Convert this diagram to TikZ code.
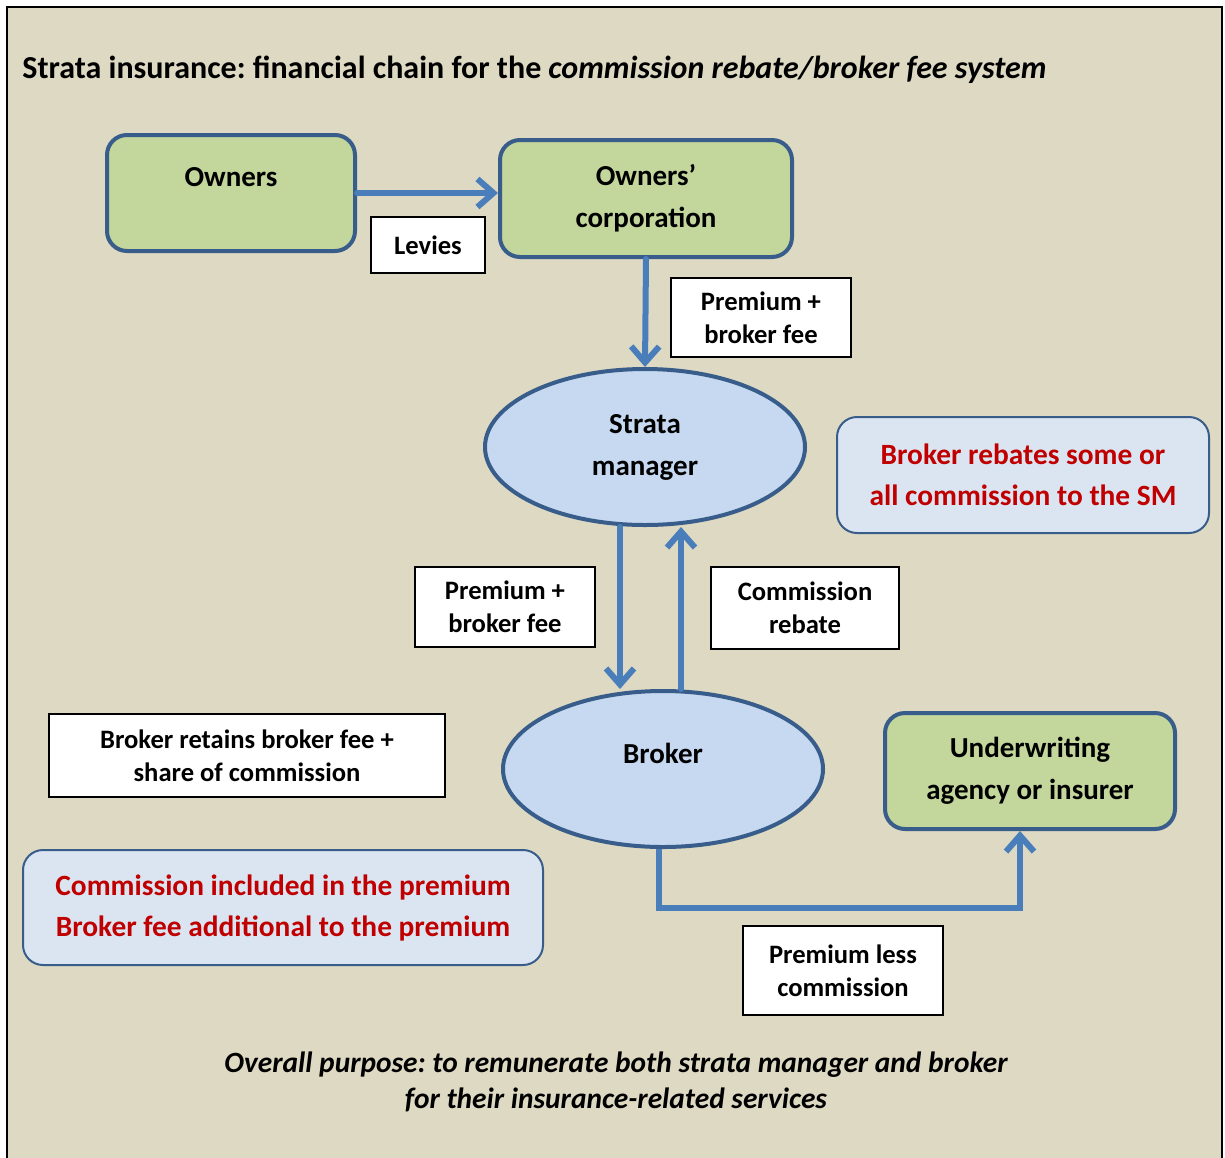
\documentclass[tikz,border=0pt]{standalone}
\usepackage{fontspec}
\setmainfont{Carlito}
\frenchspacing
\usetikzlibrary{arrows.meta,calc,shapes.geometric}
\definecolor{paper}{RGB}{221,217,195}
\definecolor{partyfill}{RGB}{195,214,155}
\definecolor{rolefill}{RGB}{198,217,241}
\definecolor{notefill}{RGB}{219,229,241}
\definecolor{edge}{RGB}{56,93,138}
\definecolor{flowblue}{RGB}{74,126,187}
\definecolor{alert}{RGB}{192,0,0}

\begin{document}
\begin{tikzpicture}[x=.5pt, y=-.5pt, line cap=round, >={Straight Barb[length=8pt,width=14pt]},
  party/.style={draw=edge, line width=2pt, fill=partyfill, rounded corners=10pt, align=center,
    font=\fontsize{14.5}{21}\selectfont\bfseries},
  role/.style={ellipse, draw=edge, line width=2pt, fill=rolefill, align=center,
    minimum width=160pt, minimum height=78pt, font=\fontsize{14.5}{21}\selectfont\bfseries},
  tag/.style={draw=black, line width=.7pt, fill=white, align=center, inner sep=0pt,
    font=\fontsize{13.3}{16.5}\selectfont\bfseries},
  note/.style={draw=edge, line width=1pt, fill=notefill, rounded corners=10pt, align=center,
    text=alert, font=\fontsize{14.7}{20.5}\selectfont\bfseries},
  flow/.style={draw=flowblue, line width=3pt, ->}]

\useasboundingbox (0,0) rectangle (1225,1157);
\clip (0,0) rectangle (1225,1157);
\draw[fill=paper, line width=1pt] (7,7) rectangle (1222,1180);

\node[anchor=base west, inner sep=0pt, font=\fontsize{16}{19}\selectfont\bfseries] (title) at (22,78)
  {Strata insurance: financial chain for the \textit{commission rebate/broker fee system}};

\node[party, minimum width=124pt, minimum height=58pt, inner sep=0pt, text height=11pt, text depth=18pt]
  (owners) at (231,193) {Owners};
\node[party, minimum width=146pt, minimum height=58.5pt] (oc) at (646,198.5) {Owners’\\corporation};
\node[role] (sm) at (645,447) {Strata\\manager};
\node[role, text height=11pt, text depth=17pt] (broker) at (663,769) {Broker};
\node[party, minimum width=145pt, minimum height=58pt] (uw) at (1030,771) {Underwriting\\agency or insurer};

\node[tag, minimum width=57pt, minimum height=28pt] (levies) at (428,245) {Levies};
\node[tag, minimum width=90pt, minimum height=39.5pt] (fee1) at (761,317.5) {Premium +\\broker fee};
\node[tag, minimum width=90pt, minimum height=40pt] (fee2) at (505,607) {Premium +\\broker fee};
\node[tag, minimum width=94pt, minimum height=41pt] (rebate) at (805,608) {Commission\\rebate};
\node[tag, minimum width=198pt, minimum height=41.5pt] (retain) at (247,755.5)
  {Broker retains broker fee +\\share of commission};
\node[tag, minimum width=100pt, minimum height=44.5pt] (less) at (843,970.5) {Premium less\\commission};

\node[note, minimum width=186pt, minimum height=58pt] (rebnote) at (1023,475)
  {Broker rebates some or\\all commission to the SM};
\node[note, minimum width=260pt, minimum height=57.5pt] (comnote) at (283,907.5)
  {Commission included in the premium\\Broker fee additional to the premium};

\draw[flow] (owners.east) -- (owners.east -| oc.west);
\draw[flow] (oc.south) -- (sm.north);
\draw[flow] ([xshift=-12.5pt]sm.south) -- ([xshift=-21.5pt]broker.north);
\draw[flow] ([xshift=9pt]broker.north) -- ([xshift=18pt]sm.south);
\draw[flow, line cap=butt] ([xshift=-2pt]broker.south) -- ++(0,59) -| ([xshift=-5pt]uw.south);

\node[align=center, font=\fontsize{14.7}{18}\selectfont\bfseries\itshape] (purpose) at (616,1082)
  {Overall purpose: to remunerate both strata manager and broker\\for their insurance-related services};

\end{tikzpicture}
\end{document}
